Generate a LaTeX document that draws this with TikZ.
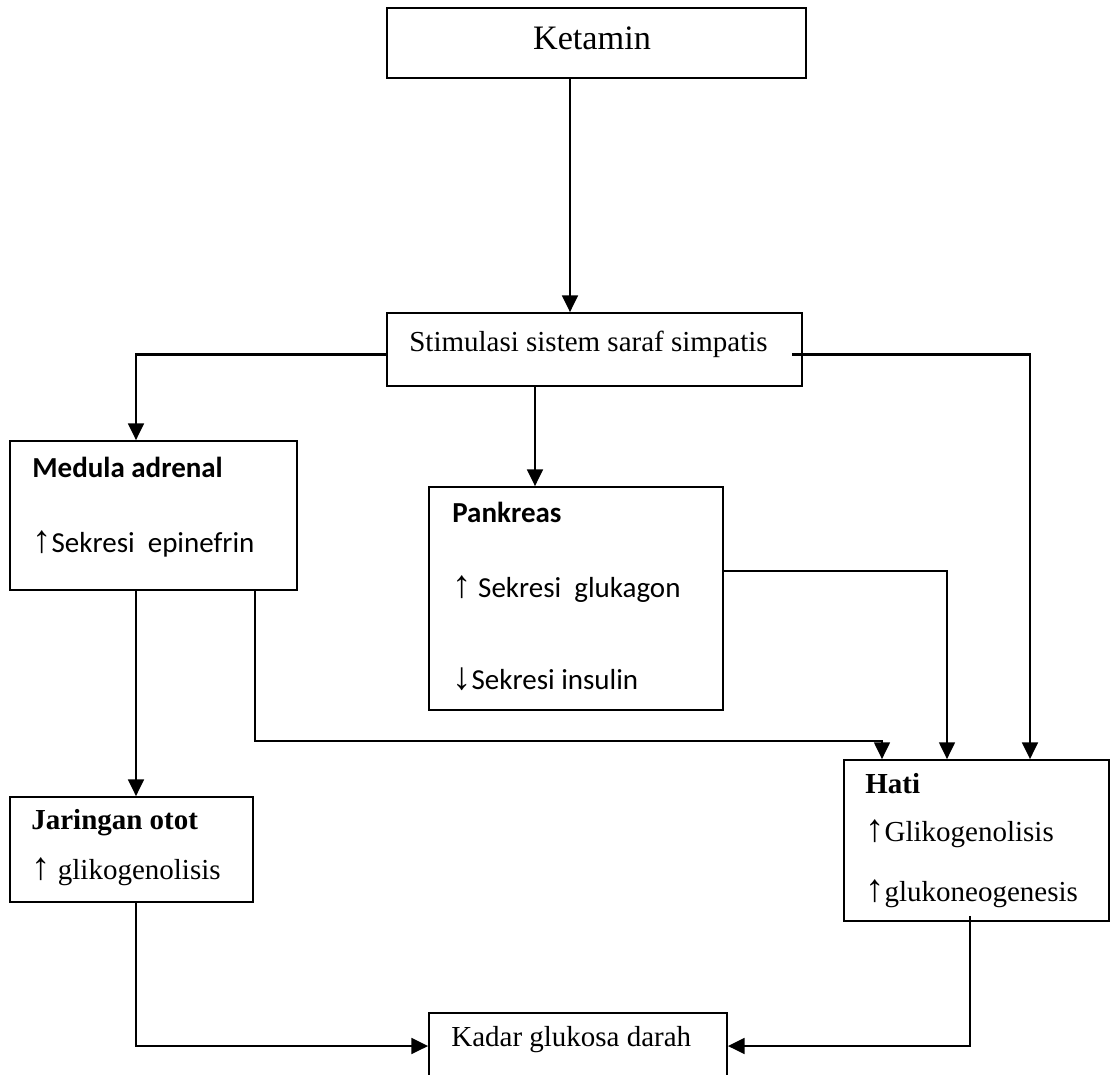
\documentclass[tikz,border=0pt]{standalone}
\usepackage{fontspec}
\setmainfont{Liberation Serif}
\newfontfamily\calfont{Carlito}
\newfontfamily\arrfont{Liberation Sans}
\newcommand{\naik}{{\arrfont\fontsize{22}{20}\selectfont ↑}}
\newcommand{\turun}{{\arrfont\fontsize{22}{20}\selectfont ↓}}
\usetikzlibrary{arrows.meta,positioning,calc,fit}

\begin{document}
\begin{tikzpicture}[x=0.02cm,y=-0.02cm,
		font=\fontsize{16.5}{20}\selectfont,
		box/.style={draw, line width=1pt, inner sep=0pt},
		txt/.style={anchor=west, inner sep=0pt, text height=0.7em, text depth=0.22em},
		caltxt/.style={txt, font=\fontsize{16.5}{20}\selectfont\calfont},
		arr/.style={line width=1.35pt, -{Triangle[width=9pt,length=9.5pt]}},
		thinarr/.style={line width=1pt, -{Triangle[width=9pt,length=9.5pt]}}]
		\useasboundingbox (0,0) rectangle (1110,1075);
		\clip (0,0) rectangle (1110,1075);
		% kotak
		\node[box, fit={(387,8) (806,78)}] (ketamin) {};
		\node[inner sep=0pt, font=\fontsize{19.5}{23}\selectfont] (ketaminT) at (592,38) {Ketamin};
		\node[box, fit={(387,313) (802,386)}] (stim) {};
		\node[txt] (stimT) at (409,347) {Stimulasi sistem saraf simpatis};
		\node[box, fit={(10,441) (297,590)}] (medula) {};
		\node[caltxt, font=\fontsize{16.5}{20}\selectfont\calfont\bfseries] (medulaT) at (32,473) {Medula adrenal};
		\node[caltxt] (medulaS) at (32,548) {\naik Sekresi\ \ epinefrin};
		\node[box, fit={(429,487) (723,710)}] (pank) {};
		\node[caltxt, font=\fontsize{16.5}{20}\selectfont\calfont\bfseries] (pankT) at (452,518) {Pankreas};
		\node[caltxt] (pankG) at (452,593) {\naik{} Sekresi\ \ glukagon};
		\node[caltxt] (pankI) at (452,685) {\turun Sekresi insulin};
		\node[box, fit={(844,760) (1109,921)}] (hati) {};
		\node[txt, font=\fontsize{16.5}{20}\selectfont\bfseries] (hatiT) at (865,789) {Hati};
		\node[txt] (hatiG) at (865,837) {\naik Glikogenolisis};
		\node[txt] (hatiN) at (865,897) {\naik glukoneogenesis};
		\node[box, fit={(10,797) (253,902)}] (jar) {};
		\node[txt, font=\fontsize{16.5}{20}\selectfont\bfseries] (jarT) at (31,825) {Jaringan otot};
		\node[txt] (jarG) at (31,875) {\naik{} glikogenolisis};
		\node[box, fit={(429,1013) (727,1090)}] (kadar) {};
		\node[txt] (kadarT) at (451,1042) {Kadar glukosa darah};
		% titik bantu
		\coordinate (xKet) at (570,0);
		\coordinate (xKiri) at (136,0);
		\coordinate (xPank) at (535,0);
		\coordinate (xMed) at (255,741);
		\coordinate (xH1) at (882,0);
		\coordinate (xH2) at (947,0);
		\coordinate (xH3) at (1030,0);
		\coordinate (xH4) at (970,0);
		\coordinate (yBawah) at (0,1046);
		% panah
		\draw[arr] (ketamin.south -| xKet) -- (stim.north -| xKet);
		\draw[arr] ($(stim.west)+(0,5)$) -| (medula.north -| xKiri);
		\draw[arr] ($(stim.east)+(-11,5)$) -| (hati.north -| xH3);
		\draw[arr] (stim.south -| xPank) -- (pank.north -| xPank);
		\draw[arr] (medula.south -| xKiri) -- (jar.north -| xKiri);
		\draw[thinarr] (medula.south -| xMed) -- (xMed) -| (hati.north -| xH1);
		\draw[thinarr] ($(pank.east)+(0,-27.5)$) -| (hati.north -| xH2);
		\draw[arr] (jar.south -| xKiri) |- (kadar.west |- yBawah);
		\draw[arr] ($(hati.south -| xH4)+(0,-6)$) |- (kadar.east |- yBawah);
	\end{tikzpicture}
\end{document}
